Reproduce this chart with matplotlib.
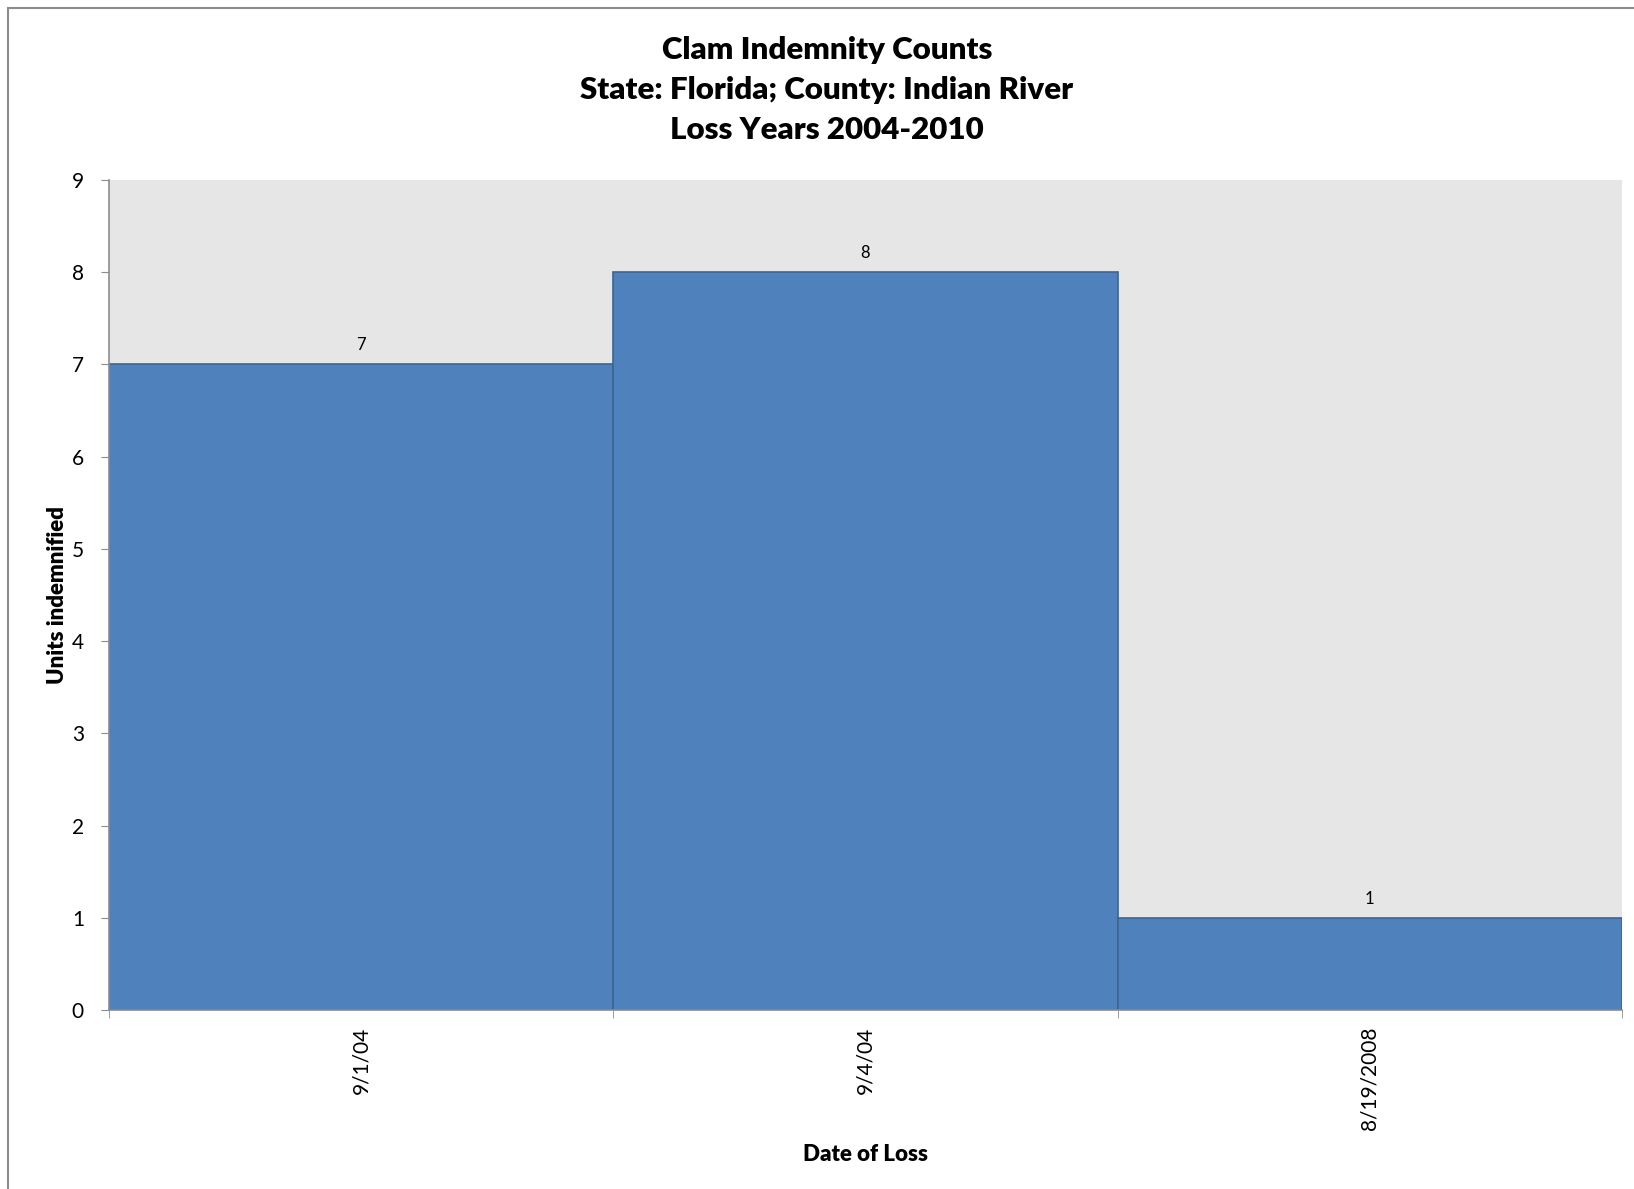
import matplotlib.pyplot as plt
import numpy as np
from matplotlib.patches import Rectangle

dates = ["9/1/04", "9/4/04", "8/19/2008"]
units = [7, 8, 1]
y_ticks = list(range(0, 10))

W, H = 1634, 1189
fig = plt.figure(figsize=(W / 100, H / 100), dpi=100)
plt.rcParams["font.family"] = ["Lato", "DejaVu Sans"]

# outer chart border (Excel style)
fig.patches.append(Rectangle((8 / W, -0.1), 1.2, 1 - 8 / H + 0.1,
                             transform=fig.transFigure, fill=False,
                             edgecolor="#8c8c8c", linewidth=1.5))

ax = fig.add_axes([109 / W, 1 - 1010 / H, (1622 - 109) / W, (1010 - 180) / H])
ax.set_facecolor("#e6e6e6")

x = np.arange(len(dates))
bars = ax.bar(x, units, width=1.0, color="#4f81bd", edgecolor="#3b6591",
              linewidth=1.2)
for xi, v in zip(x, units):
    ax.text(xi, v + 0.12, str(v), ha="center", va="bottom", fontsize=12)

ax.set_xlim(-0.5, len(dates) - 0.5)
ax.set_ylim(0, 9)
ax.set_yticks(y_ticks)
ax.set_xticks(x)
ax.set_xticklabels(dates, rotation=90, fontsize=15)
ax.set_xticks(np.arange(-0.5, len(dates)), minor=True)
ax.tick_params(axis="x", which="major", length=0, pad=12)
ax.tick_params(axis="x", which="minor", length=6, color="#8c8c8c", direction="out")
ax.tick_params(axis="y", labelsize=15, length=6, color="#8c8c8c", pad=12)

for s in ["top", "right"]:
    ax.spines[s].set_visible(False)
for s in ["left", "bottom"]:
    ax.spines[s].set_color("#8c8c8c")
    ax.spines[s].set_linewidth(1.2)

ax.set_ylabel("Units indemnified", fontsize=16, fontweight="heavy", labelpad=3)
ax.set_xlabel("Date of Loss", fontsize=16, fontweight="heavy", labelpad=10)
fig.text(827 / W, 1 - 90 / H,
         "Clam Indemnity Counts\nState: Florida; County: Indian River\nLoss Years 2004-2010",
         ha="center", va="center", fontsize=22.5, fontweight="heavy", linespacing=1.52)

fig.savefig("out.png", dpi=100)
